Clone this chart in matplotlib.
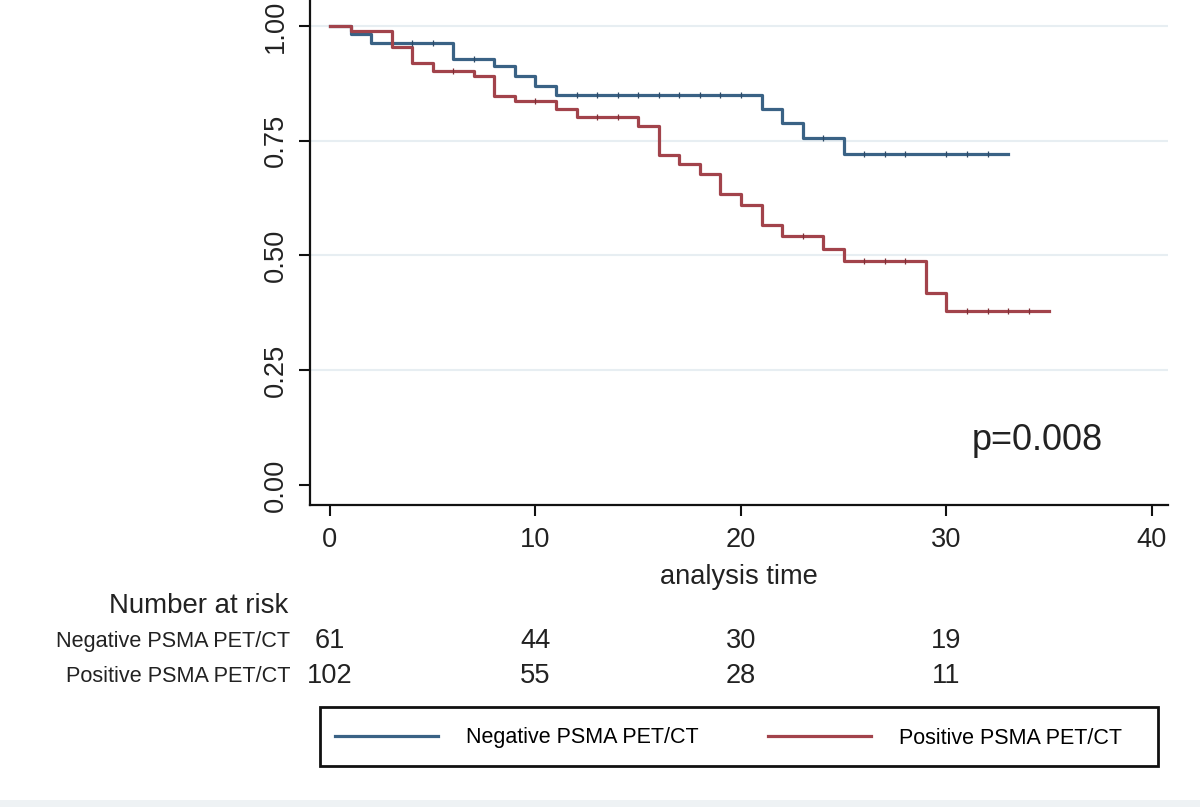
import numpy as np
import matplotlib
matplotlib.use("Agg")
import matplotlib.pyplot as plt
from matplotlib.patches import Rectangle
from matplotlib import transforms

plt.rcParams['font.family'] = ['Liberation Sans', 'DejaVu Sans']

# Kaplan-Meier steps
neg_times = [0, 1, 2, 6, 8, 9, 10, 11, 21, 22, 23, 25, 33]
neg_surv = [1.0, 0.983, 0.964, 0.929, 0.912, 0.891, 0.870, 0.850, 0.820, 0.788, 0.756, 0.721, 0.721]
pos_times = [0, 1, 3, 4, 5, 7, 8, 9, 11, 12, 15, 16, 17, 18, 19, 20, 21, 22, 24, 25, 29, 30, 35]
pos_surv = [1.0, 0.988, 0.954, 0.919, 0.903, 0.891, 0.848, 0.836, 0.819, 0.801, 0.783, 0.720,
            0.699, 0.678, 0.634, 0.611, 0.567, 0.542, 0.514, 0.487, 0.418, 0.380, 0.380]

# censoring ticks
neg_censor = [4, 5, 7, 12, 13, 14, 15, 16, 17, 18, 19, 20, 24, 26, 27, 28, 30, 31, 32]
pos_censor = [6, 10, 13, 14, 23, 26, 27, 28, 31, 32, 33, 34]

groups = ["Negative PSMA PET/CT", "Positive PSMA PET/CT"]
risk_times = [0, 10, 20, 30]
neg_risk = [61, 44, 30, 19]
pos_risk = [102, 55, 28, 11]
p_text = "p=0.008"

blue = '#3a6285'
red = '#a2434b'
txt = '#222222'

W, H = 1200, 807
fig = plt.figure(figsize=(W / 100, H / 100), dpi=100)
fig.patch.set_facecolor('white')
ax = fig.add_axes([310 / W, 1 - 505 / H, 858 / W, 505 / H])

def surv_at(times, surv, t):
    i = np.searchsorted(times, t, side='right') - 1
    return np.asarray(surv)[i]

for yv in [0.25, 0.5, 0.75, 1.0]:
    ax.axhline(yv, color='#e7eef2', lw=1.5, zorder=0)

ax.plot(neg_times, neg_surv, drawstyle='steps-post', color=blue, lw=2.3, label=groups[0])
ax.plot(pos_times, pos_surv, drawstyle='steps-post', color=red, lw=2.3, label=groups[1])
ax.plot(neg_censor, surv_at(neg_times, neg_surv, neg_censor), ls='none', marker='|',
        ms=4.5, mew=0.9, color='#2c4a66')
ax.plot(pos_censor, surv_at(pos_times, pos_surv, pos_censor), ls='none', marker='|',
        ms=4.5, mew=0.9, color='#7e2f36')

ax.set_xlim(-0.973, 40.78)
ax.set_ylim(-0.0436, 1.0566)
ax.set_xticks([0, 10, 20, 30, 40])
ax.set_yticks([0, 0.25, 0.5, 0.75, 1.0])
ax.set_yticklabels(['0.00', '0.25', '0.50', '0.75', '1.00'])
for s in ['top', 'right']:
    ax.spines[s].set_visible(False)
for s in ['left', 'bottom']:
    ax.spines[s].set_linewidth(1.6)
    ax.spines[s].set_color('#111111')
ax.tick_params(length=8, width=1.5, color='#111111', labelsize=19.6, labelcolor=txt)
ax.tick_params(axis='x', pad=8)
ax.tick_params(axis='y', pad=7)
for lab in ax.get_yticklabels():
    lab.set_rotation(90)
    lab.set_va('center')
ax.set_xlabel('analysis time', fontsize=19.6, color=txt, labelpad=8)

ax.text(0.771, 0.127, p_text, transform=ax.transAxes, fontsize=26, color=txt,
        ha='left', va='center')

# number at risk table
tr = transforms.blended_transform_factory(ax.transData, fig.transFigure)
fig.text(288 / W, 1 - 606 / H, "Number at risk", fontsize=19.9, ha='right', va='center',
         color=txt)
for row, (name, counts) in enumerate([(groups[0], neg_risk), (groups[1], pos_risk)]):
    yy = 1 - (641 + 35 * row) / H
    fig.text(290 / W, yy, name, fontsize=15.6, ha='right', va='center', color=txt)
    for t, n in zip(risk_times, counts):
        ax.text(t, yy, str(n), transform=tr, fontsize=19.6, ha='center', va='center',
                color=txt, clip_on=False)

# legend with box
fig.patches.append(Rectangle((320 / W, 1 - 766 / H), 838 / W, 59 / H, transform=fig.transFigure,
                             fill=False, edgecolor='#111111', lw=2))
fig.legend(loc='center left', bbox_to_anchor=(335 / W, 1 - 738 / H), ncol=2, frameon=False,
           fontsize=15.5, handlelength=4.79, handletextpad=1.3, columnspacing=3.2,
           borderpad=0, borderaxespad=0)

fig.patches.append(Rectangle((0, 0), 1, 7 / H, transform=fig.transFigure,
                             facecolor='#eef2f4', edgecolor='none'))

fig.savefig('out.png', dpi=100)
